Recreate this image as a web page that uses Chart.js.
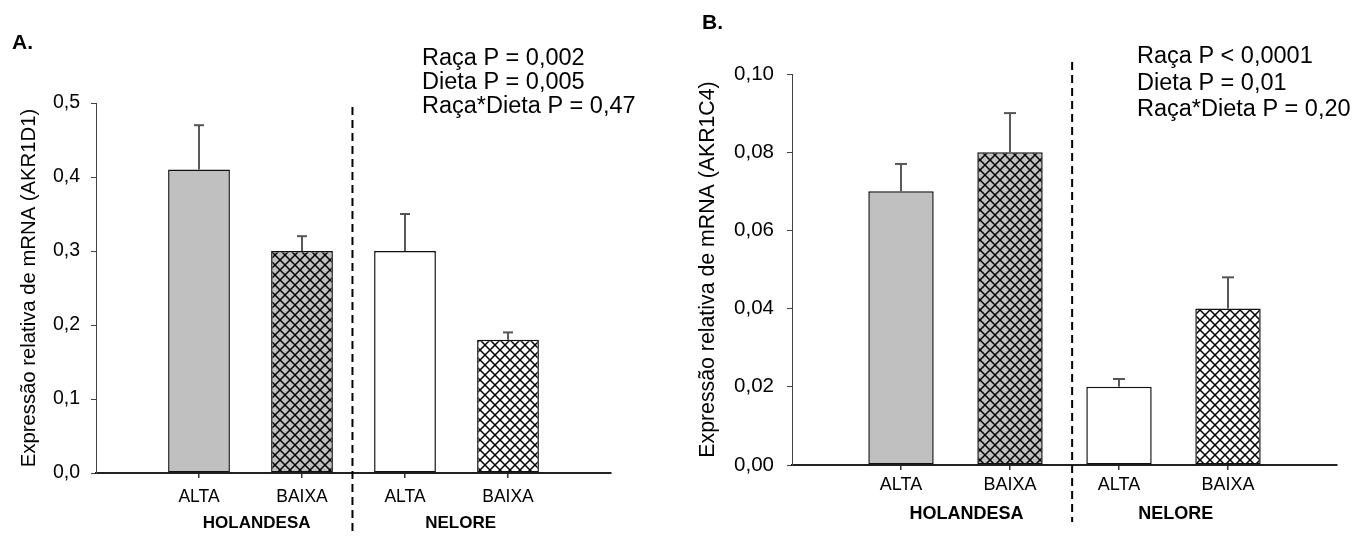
<!DOCTYPE html>
<html><head><meta charset="utf-8">
<script src="https://cdn.jsdelivr.net/npm/chart.js@4.4.1/dist/chart.umd.min.js"></script>
<style>
html,body{margin:0;padding:0;background:#fff;width:1359px;height:536px;overflow:hidden}
canvas{position:absolute;top:0}
#ca{left:0}
#cb{left:680px}
</style></head><body>
<canvas id="ca" width="680" height="536"></canvas>
<canvas id="cb" width="679" height="536"></canvas>
<script>
// ---- data ----
const categories = ['', 'ALTA', 'BAIXA', 'ALTA', 'BAIXA', ''];
const groups = ['HOLANDESA', 'NELORE'];
const meansA = [null, 0.41, 0.30, 0.30, 0.18, null];
const errA   = [null, 0.06, 0.02, 0.05, 0.01, null];
const meansB = [null, 0.070, 0.080, 0.020, 0.040, null];
const errB   = [null, 0.007, 0.010, 0.002, 0.008, null];
const yTicksA = ['0,0', '0,1', '0,2', '0,3', '0,4', '0,5'];
const yTicksB = ['0,00', '0,02', '0,04', '0,06', '0,08', '0,10'];
const statsA = ['Raça P = 0,002', 'Dieta P = 0,005', 'Raça*Dieta P = 0,47'];
const statsB = ['Raça P < 0,0001', 'Dieta P = 0,01', 'Raça*Dieta P = 0,20'];
const yTitleA = 'Expressão relativa de mRNA (AKR1D1)';
const yTitleB = 'Expressão relativa de mRNA (AKR1C4)';
const panelA = 'A.';
const panelB = 'B.';

const FONT = "'Liberation Sans', Arial, Helvetica, sans-serif";

function hatch(ctx, bg) {
  const c = document.createElement('canvas');
  c.width = 10; c.height = 10;
  const g = c.getContext('2d');
  g.fillStyle = bg; g.fillRect(0, 0, 10, 10);
  g.strokeStyle = '#000'; g.lineWidth = 1.5;
  for (const d of [-10, 0, 10]) {
    g.beginPath(); g.moveTo(d, 0); g.lineTo(d + 10, 10); g.stroke();
    g.beginPath(); g.moveTo(d + 10, 0); g.lineTo(d, 10); g.stroke();
  }
  return ctx.createPattern(c, 'repeat');
}

function overlay(o) {
  return {
    id: 'overlay',
    afterDatasetsDraw(chart) {
      const ctx = chart.ctx, xs = chart.scales.x, ys = chart.scales.y;
      ctx.save();
      o.means.forEach((m, i) => {
        if (m === null) return;
        const x = xs.getPixelForValue(i);
        const y0 = ys.getPixelForValue(m);
        const y1 = ys.getPixelForValue(m + o.err[i]);
        ctx.strokeStyle = '#222'; ctx.lineWidth = 1.5;
        ctx.beginPath(); ctx.moveTo(x, y0); ctx.lineTo(x, y1); ctx.stroke();
        ctx.strokeStyle = '#555'; ctx.lineWidth = 2;
        ctx.beginPath(); ctx.moveTo(x - o.cap / 2, y1); ctx.lineTo(x + o.cap / 2, y1); ctx.stroke();
      });
      ctx.restore();
    },
    afterDraw(chart) {
      const ctx = chart.ctx, xs = chart.scales.x;
      ctx.save();
      // dashed separator
      const dx = xs.getPixelForValue(o.sepAt);
      ctx.strokeStyle = '#000'; ctx.lineWidth = 2; ctx.setLineDash([8, 5]);
      ctx.beginPath(); ctx.moveTo(dx, o.sepTop); ctx.lineTo(dx, o.sepBottom); ctx.stroke();
      ctx.setLineDash([]);
      // group labels
      ctx.fillStyle = '#000';
      ctx.font = 'bold ' + o.groupSize + 'px ' + FONT;
      ctx.textAlign = 'center'; ctx.textBaseline = 'middle';
      groups.forEach((g, k) => {
        ctx.fillText(g, xs.getPixelForValue(o.groupAt[k]), o.groupY);
      });
      // stats
      ctx.font = o.statSize + 'px ' + FONT;
      ctx.textAlign = 'left'; ctx.textBaseline = 'alphabetic';
      o.stats.forEach((s, k) => ctx.fillText(s, o.statX, o.statY[k]));
      // panel letter
      ctx.font = 'bold ' + o.panelSize + 'px ' + FONT;
      ctx.fillText(o.panel, o.panelX, o.panelY);
      ctx.restore();
    }
  };
}

function makeChart(id, o) {
  const ctx = document.getElementById(id).getContext('2d');
  const fills = [null, '#c0c0c0', hatch(ctx, '#c0c0c0'), '#ffffff', hatch(ctx, '#ffffff'), null];
  return new Chart(ctx, {
    type: 'bar',
    data: {
      labels: categories,
      datasets: [{
        data: o.means,
        backgroundColor: fills,
        borderColor: '#111',
        borderWidth: 1.5,
        borderSkipped: false,
        categoryPercentage: 0.8,
        barPercentage: 0.75
      }]
    },
    options: {
      responsive: false,
      animation: false,
      layout: { padding: { left: 0, top: o.top, right: o.right, bottom: 0 } },
      plugins: { legend: { display: false }, tooltip: { enabled: false } },
      scales: {
        x: {
          type: 'category',
          offset: false,
          grid: {
            offset: false, display: true, drawOnChartArea: false, drawTicks: true,
            tickLength: 5, lineWidth: 1.5,
            color: c => (c.index === 0 || c.index === categories.length - 1) ? 'rgba(0,0,0,0)' : '#333'
          },
          border: { display: true, color: '#222', width: 2 },
          ticks: { font: { family: FONT, size: o.catSize }, color: '#000', padding: o.catPad, maxRotation: 0, autoSkip: false },
          afterFit: s => { s.height = o.xH; }
        },
        y: {
          min: 0, max: o.max,
          ticks: { stepSize: o.step, callback: (v, i) => o.yTicks[i], font: { family: FONT, size: o.tickSize }, color: '#000', padding: o.tickPad },
          grid: { display: true, drawOnChartArea: false, tickLength: 5, color: '#444', lineWidth: 1 },
          border: { display: true, color: '#444', width: 1 },
          title: { display: true, text: o.yTitle, font: { family: FONT, size: o.titleSize }, color: '#000', padding: { top: o.titlePad, bottom: 0 } },
          afterFit: s => { s.width = o.yW; }
        }
      }
    },
    plugins: [overlay(o)]
  });
}

makeChart('ca', {
  means: meansA, err: errA, yTicks: yTicksA, stats: statsA, yTitle: yTitleA, panel: panelA,
  max: 0.5, step: 0.1,
  top: 103, right: 69, yW: 96, xH: 63,
  catSize: 17.5, catPad: 9, tickSize: 19.5, tickPad: 11, titleSize: 20.3, titlePad: 17,
  cap: 10, sepAt: 2.49, sepTop: 107, sepBottom: 536,
  groupSize: 17, groupAt: [1.56, 3.54], groupY: 523,
  statSize: 23.5, statX: 422, statY: [65, 89, 113],
  panelSize: 21, panelX: 12, panelY: 49
});

makeChart('cb', {
  means: meansB, err: errB, yTicks: yTicksB, stats: statsB, yTitle: yTitleB, panel: panelB,
  max: 0.1, step: 0.02,
  top: 74, right: 22, yW: 112, xH: 71,
  catSize: 18, catPad: 4, tickSize: 20.5, tickPad: 13, titleSize: 21.3, titlePad: 15,
  cap: 12, sepAt: 2.57, sepTop: 62, sepBottom: 522,
  groupSize: 18, groupAt: [1.6, 3.52], groupY: 514,
  statSize: 23.5, statX: 457, statY: [63, 90, 116],
  panelSize: 21, panelX: 22, panelY: 29
});
</script>
</body></html>
